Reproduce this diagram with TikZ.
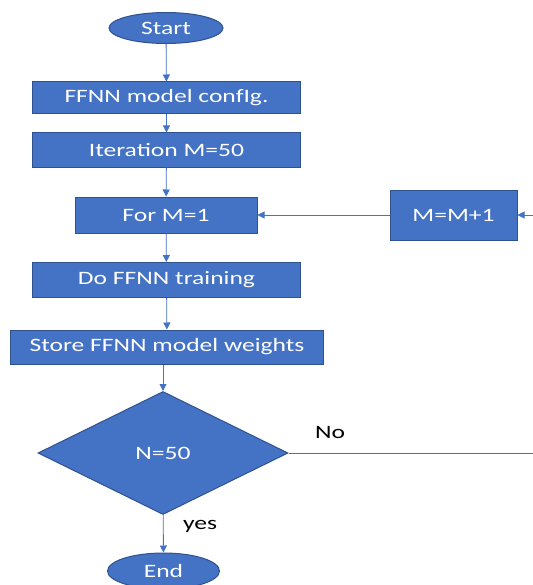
\documentclass[tikz,border=0pt]{standalone}
\usepackage{fontspec}
\setmainfont{Carlito}[FakeStretch=1.35]
\usetikzlibrary{shapes.geometric,arrows.meta}
\definecolor{boxfill}{HTML}{4472C4}
\definecolor{boxline}{HTML}{2F528F}
\definecolor{conn}{HTML}{4472C4}
\tikzset{
  base/.style={fill=boxfill,draw=boxline,line width=1bp,text=white,inner sep=0pt,font=\fontsize{19}{22}\selectfont},
  procbox/.style={base,rectangle},
  termin/.style={base,ellipse},
  decide/.style={base,diamond},
  conn/.style={draw=conn,line width=0.8bp,-{Triangle[width=7bp,length=7bp]}},
  plainconn/.style={draw=conn,line width=0.8bp},
  lbl/.style={text=black,font=\fontsize{19}{22}\selectfont,inner sep=0pt}
}
\begin{document}
\begin{tikzpicture}[x=1bp,y=-1bp]
\useasboundingbox (0,0) rectangle (533,585);
\clip (0,0) rectangle (533,585);
\fill[white] (0,0) rectangle (533,585);
\node[termin,minimum width=114bp,minimum height=31bp] (start) at (166,28) {Start};
\node[procbox,minimum width=267bp,minimum height=32bp] (cfg) at (166.5,98) {FFNN model confIg.};
\node[procbox,minimum width=267bp,minimum height=34bp] (iter) at (166.5,150) {Iteration M=50};
\node[procbox,minimum width=182bp,minimum height=36bp] (for) at (166,215) {For M=1};
\node[procbox,minimum width=127bp,minimum height=50bp] (inc) at (453.5,215) {M=M+1};
\node[procbox,minimum width=267bp,minimum height=35bp] (do) at (166.5,280) {Do FFNN training};
\node[procbox,minimum width=312bp,minimum height=34bp] (store) at (167,347) {Store FFNN model weights};
\node[decide,minimum width=250bp,minimum height=123bp] (dec) at (163,453) {N=50};
\node[termin,minimum width=112bp,minimum height=36bp] (end) at (163.5,571) {End};
\node[lbl] (no) at (330,432) {No};
\node[lbl] (yes) at (200,526) {yes};
\coordinate (inR) at (533,215);
\coordinate (noR) at (533,453);
\draw[conn] (start) -- (cfg);
\draw[conn] (cfg) -- (iter);
\draw[conn] (iter) -- (for);
\draw[conn] (for) -- (do);
\draw[conn] (do) -- (store);
\draw[conn] (store.south -| dec.north) -- (dec.north);
\draw[conn] (dec) -- (end);
\draw[conn] (inR) -- (inc.east);
\draw[conn] (inc.west) -- (for.east);
\draw[plainconn] (dec.east) -- (noR);
\end{tikzpicture}
\end{document}
